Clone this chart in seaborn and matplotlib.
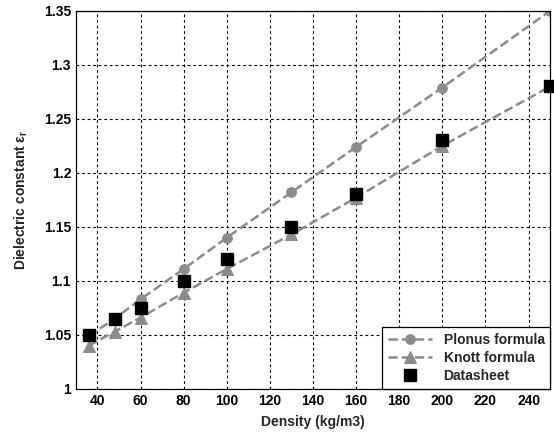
import matplotlib
matplotlib.use("Agg")
import matplotlib.pyplot as plt
import seaborn as sns
import pandas as pd

sns.set_theme(style="white")
plt.rcParams['font.family'] = ['Liberation Sans', 'DejaVu Sans']
plt.rcParams['font.weight'] = 'bold'
plt.rcParams['mathtext.fontset'] = 'custom'
plt.rcParams['mathtext.rm'] = 'Liberation Sans:bold'
plt.rcParams['mathtext.bf'] = 'Liberation Sans:bold'
plt.rcParams['mathtext.it'] = 'Liberation Sans:bold'

# values
density = [36, 48, 60, 80, 100, 130, 160, 200, 250]
plonus = [1.049, 1.065, 1.083, 1.111, 1.140, 1.182, 1.224, 1.279, 1.350]
knott = [1.040, 1.053, 1.066, 1.089, 1.111, 1.143, 1.177, 1.225, 1.280]
datasheet = [1.050, 1.065, 1.075, 1.100, 1.120, 1.150, 1.180, 1.230, 1.280]

x_ticks = [40, 60, 80, 100, 120, 140, 160, 180, 200, 220, 240]
y_ticks = [1, 1.05, 1.1, 1.15, 1.2, 1.25, 1.3, 1.35]
y_tick_labels = ["1", "1.05", "1.1", "1.15", "1.2", "1.25", "1.3", "1.35"]

df = pd.DataFrame({"Density": density, "Plonus": plonus,
                   "Knott": knott, "Datasheet": datasheet})

fig = plt.figure(figsize=(5.54, 4.34), dpi=100)
ax = fig.add_axes([0.137, 0.104, 0.856, 0.871])

gray = "#8c8c8c"
sns.lineplot(data=df, x="Density", y="Plonus", ax=ax, color=gray, linestyle="--",
             linewidth=1.8, marker="o", markersize=7, markeredgecolor=gray,
             label="Plonus formula")
sns.lineplot(data=df, x="Density", y="Knott", ax=ax, color=gray, linestyle="--",
             linewidth=1.8, marker="^", markersize=8, markeredgecolor=gray,
             label="Knott formula")
ax.plot(df["Density"], df["Datasheet"], linestyle="none", marker="s",
        markersize=9, color="black", label="Datasheet", clip_on=False, zorder=5)

ax.set_xlim(30, 250)
ax.set_ylim(1, 1.35)
ax.set_xticks(x_ticks)
ax.set_yticks(y_ticks)
ax.set_yticklabels(y_tick_labels)
ax.tick_params(axis="both", direction="in", length=4, labelsize=10,
               colors="black", width=0.8)
for lbl in ax.get_xticklabels() + ax.get_yticklabels():
    lbl.set_fontweight("bold")
ax.grid(True, color="black", linestyle=(0, (2.5, 2.5)), linewidth=0.8)
ax.set_axisbelow(True)
for sp in ax.spines.values():
    sp.set_color("black")
    sp.set_linewidth(0.9)

ax.set_xlabel("Density (kg/m3)", fontsize=10, fontweight="bold", labelpad=5)
ax.set_ylabel(r"Dielectric constant $\epsilon_r$", fontsize=10, fontweight="bold",
              labelpad=10)

leg = ax.legend(loc="lower right", fontsize=10, frameon=True, fancybox=False,
                borderaxespad=0, handlelength=3.2, labelspacing=0.3,
                borderpad=0.4, handletextpad=0.8)
leg.get_frame().set_edgecolor("black")
leg.get_frame().set_linewidth(0.9)
leg.get_frame().set_alpha(1)
for t in leg.get_texts():
    t.set_fontweight("bold")

fig.savefig("out.png", dpi=100)
